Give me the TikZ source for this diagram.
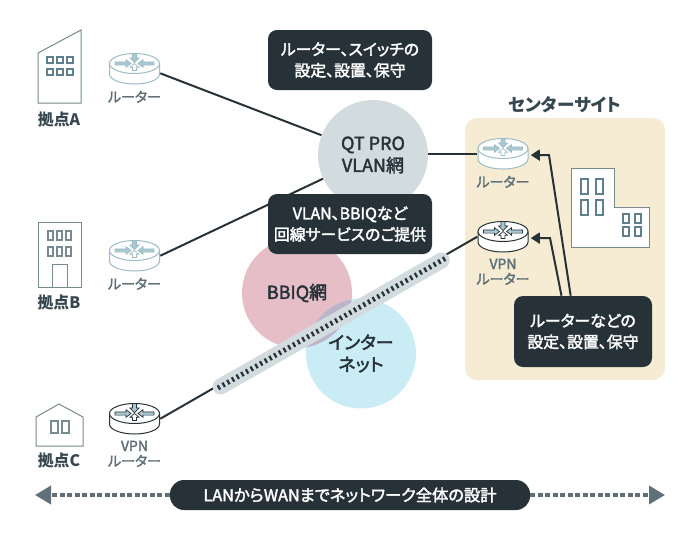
\documentclass[tikz,border=0pt]{standalone}
\usepackage{fontspec}
\setmainfont[RawFeature=+palt]{Noto Sans CJK JP}
\newfontfamily\medfont[RawFeature=+palt,FakeBold=2.2]{Noto Sans CJK JP}
\usetikzlibrary{arrows.meta, positioning}
\definecolor{inkdark}{HTML}{263238}
\definecolor{inkgray}{HTML}{5F7078}
\definecolor{inklabel}{HTML}{37474F}
\definecolor{wall}{HTML}{5E7F8B}
\definecolor{wallgray}{HTML}{78898F}
\definecolor{wallpale}{HTML}{9DBBC4}
\definecolor{wallfill}{HTML}{A9C8D1}
\definecolor{sitebg}{HTML}{F5ECD3}
\definecolor{netgray}{HTML}{D2DCDF}
\definecolor{netpink}{HTML}{E6BEC8}
\definecolor{netblue}{HTML}{C9ECF5}
\definecolor{netboth}{HTML}{BDB4C8}
\def\u{0.75pt}
\tikzset{
	notebox/.style={fill=inkdark, text=white, rounded corners=9*\u, align=center, inner sep=0pt,
		font=\medfont\fontsize{11.9}{15.8}\selectfont},
	netcircle/.style={circle, minimum size=110*\u, inner sep=0pt, align=center, text=inkdark,
		font=\medfont\fontsize{13.5}{16.5}\selectfont},
	sitelabel/.style={text=inklabel, font=\bfseries\fontsize{11.9}{14}\selectfont},
	routerlabel/.style={text=inkgray, align=center, inner sep=0pt, node distance=6*\u,
		font=\medfont\fontsize{10.5}{11.4}\selectfont},
	link/.style={draw=inkdark, line width=2*\u},
	notearrow/.style={link, -{Triangle[length=9*\u,width=11*\u]}},
	building/.style={draw=wallgray, line width=1*\u, fill=white, line join=miter},
	window/.style={draw=wall, line width=1.2*\u},
	pics/router/.style 2 args={code={
		\draw[draw=#1, line width=1*\u, fill=white] (-25,0) -- (-25,10.5) arc[start angle=180, end angle=0, x radius=25, y radius=10] -- (25,0);
		\draw[draw=#1, line width=1*\u, fill=white] (0,0) ellipse [x radius=25, y radius=10];
		\foreach \s in {1,-1} {
			\draw[draw=#1, fill=#2, line width=0.7*\u] (-19.5*\s,-1.6) -- (-8.5*\s,-1.6) -- (-8.5*\s,-3.8) -- (-3.5*\s,0) -- (-8.5*\s,3.8) -- (-8.5*\s,1.6) -- (-19.5*\s,1.6) -- cycle;
		}
		\draw[draw=#1, fill=#2, line width=0.7*\u] (-2,-10) -- (2,-10) -- (2,-5.5) -- (4.5,-5.5) -- (0,-1) -- (-4.5,-5.5) -- (-2,-5.5) -- cycle;
		\draw[draw=#1, fill=white, line width=0.7*\u] (-2,7) -- (2,7) -- (2,3.8) -- (4.5,3.8) -- (0,0) -- (-4.5,3.8) -- (-2,3.8) -- cycle;
		\node[minimum width=51*\u, minimum height=31*\u, inner sep=0pt] (-box) at (0,5.25) {};
	}},
}
\begin{document}
\begin{tikzpicture}[x=\u,y=-\u]
	\useasboundingbox (0,0) rectangle (700,540);
	% center site background
	\fill[sitebg, rounded corners=12*\u] (465,118) rectangle (665,380);
	\node[text=inklabel, font=\bfseries\fontsize{13.2}{14}\selectfont] (sitetitle) at (565,105) {センターサイト};
	% buildings
	\draw[building] (38,53) -- (81,30) -- (81,103) -- (38,103) -- cycle;
	\foreach \x in {47,57,67} \foreach \y in {57,69} \draw[window] (\x,\y) rectangle ++(6,6);
	\draw[building] (38,222) rectangle (81,287);
	\foreach \x in {48,57,66} \foreach \y in {231,247} \draw[window, draw=wallgray] (\x,\y) rectangle ++(5,9);
	\draw[building] (52,264) rectangle (67,287);
	\draw[building] (36,417) -- (59,404) -- (83,417) -- (83,446) -- (36,446) -- cycle;
	\draw[window, draw=wallgray] (51,421) rectangle (58,433);
	\draw[window, draw=wallgray] (62,421) rectangle (69,433);
	\draw[building] (571,168) -- (614,168) -- (614,207) -- (649,207) -- (649,247) -- (571,247) -- cycle;
	\foreach \x in {581,596} \foreach \y in {179,200} \draw[window, line width=1.8*\u] (\x,\y) rectangle ++(7,15);
	\foreach \x in {623,635} \foreach \y in {214,227} \draw[window, line width=1.8*\u] (\x,\y) rectangle ++(6,9);
	\node[sitelabel] (siteA) at (59,119) {拠点A};
	\node[sitelabel] (siteB) at (59,302) {拠点B};
	\node[sitelabel] (siteC) at (59,460) {拠点C};
	% routers
	\pic (rA) at (134.5,63.5) {router={wallpale}{wallfill}};
	\pic (rB) at (134.5,250.5) {router={wallpale}{wallfill}};
	\pic (rC) at (134.5,413.5) {router={inkdark}{wallfill}};
	\pic (rS) at (503,148.5) {router={wallpale}{wallfill}};
	\pic (rV) at (503,231.5) {router={inkdark}{wallfill}};
	\node[routerlabel, below=of rA-box] (labA) {ルーター};
	\node[routerlabel, below=of rB-box] (labB) {ルーター};
	\node[routerlabel, below=of rC-box] (labC) {VPN\\ルーター};
	\node[routerlabel, below=of rS-box] (labS) {ルーター};
	\node[routerlabel, below=of rV-box] (labV) {VPN\\ルーター};
	% networks
	\node[netcircle, fill=netgray] (qt) at (373,155) {QT PRO\\VLAN網};
	\draw[link] (rA-box.-10) -- (qt);
	\draw[link] (rB-box.east) -- (qt);
	\draw[link] (qt.east |- rS-box.east) -- (rS-box.west);
	\node[netcircle, fill=netpink] (bbiq) at (297,293) {BBIQ網};
	\node[netcircle, fill=netblue] (inet) at (361,353.5) {インター\\ネット};
	\begin{scope}
		\clip (297,293) circle [radius=55];
		\fill[netboth] (361,353.5) circle [radius=55];
	\end{scope}
	% vpn tunnel
	\coordinate (tunnelL) at (218,388);
	\coordinate (tunnelR) at (446,258);
	\draw[link] (rC-box.east) -- (rV-box.west);
	\draw[draw=netgray, line width=16*\u, line cap=round, shorten <=3*\u, shorten >=5*\u] (tunnelL) -- (tunnelR);
	\draw[draw=inkdark, line width=5*\u, dash pattern=on 2.2*\u off 3.2*\u] (tunnelL) -- (tunnelR);
	% notes
	\node[notebox, minimum width=164*\u, minimum height=60*\u] (noteA) at (350,60) {ルーター、スイッチの\\設定、設置、保守};
	\node[notebox, minimum width=164*\u, minimum height=60*\u] (noteB) at (350,224) {VLAN、BBIQなど\\回線サービスのご提供};
	\node[notebox, minimum width=138*\u, minimum height=71*\u] (noteC) at (583,331.5) {ルーターなどの\\設定、設置、保守};
	\coordinate (bendS) at (549,155);
	\coordinate (bendV) at (550,238);
	\draw[notearrow, shorten >=2*\u] (noteC.109) -- (bendS) -- (rS-box.-3);
	\draw[notearrow, shorten >=2*\u] (noteC.121) -- (bendV) -- (rV-box.-3);
	% bottom bar
	\node[notebox, rounded corners=14*\u, minimum width=360*\u, minimum height=30*\u, font=\medfont\fontsize{12.2}{15.8}\selectfont] (bar) at (350,495) {LANからWANまでネットワーク全体の設計};
	\coordinate (endL) at (35,495);
	\coordinate (endR) at (665,495);
	\foreach \p/\q in {bar.west/endL, bar.east/endR}
		\draw[draw=inkgray, line width=3.5*\u, dash pattern=on 5*\u off 2.5*\u, -{Triangle[length=16*\u,width=18*\u]}] (\p) -- (\q);
\end{tikzpicture}
\end{document}
